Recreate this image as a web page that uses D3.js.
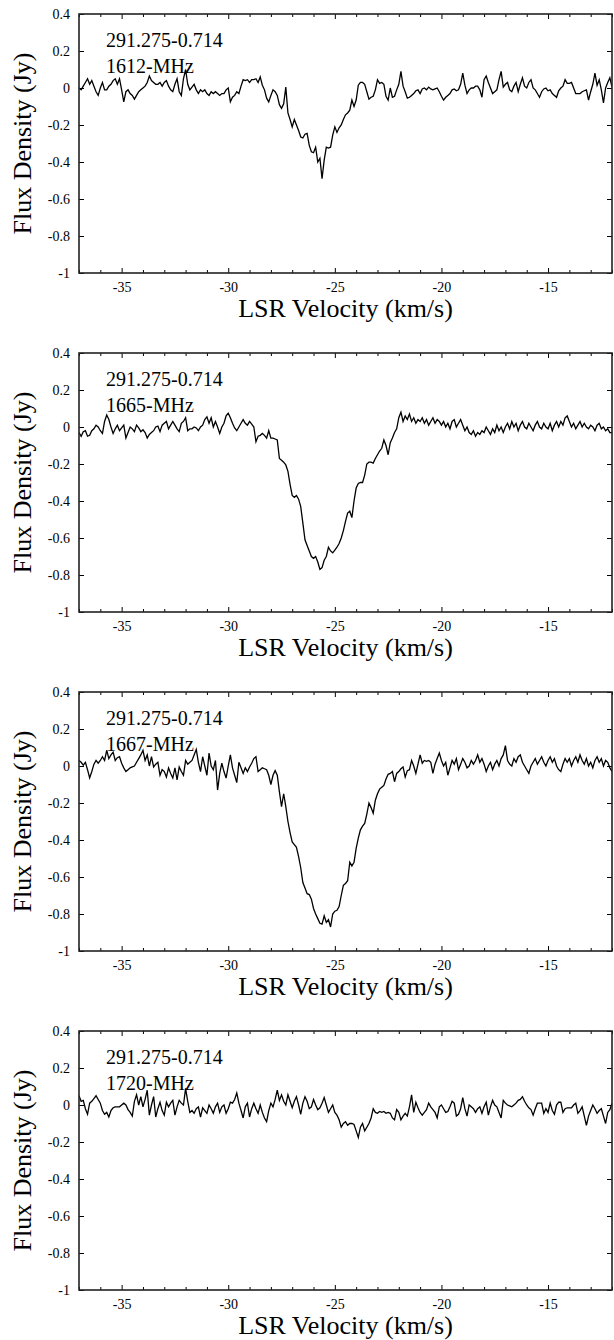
<!DOCTYPE html>
<html>
<head>
<meta charset="utf-8">
<script src="https://cdn.jsdelivr.net/npm/d3@7/dist/d3.min.js"></script>
<style>
  html, body { margin: 0; padding: 0; background: #fff; }
  svg { display: block; }
</style>
</head>
<body>
<svg id="chart" width="614" height="1340"></svg>
<script>
// ---- data ----
const sourceName = "291.275-0.714";
const lineNames = ["1612-MHz", "1665-MHz", "1667-MHz", "1720-MHz"];
const velStart = -37.0;      // km/s, first channel
const velStep = 0.1;         // km/s, channel width
const xDomain = [-37, -12];
const yDomain = [-1, 0.4];
const xMajorTicks = [-35, -30, -25, -20, -15];
const xMajorLabels = ["-35", "-30", "-25", "-20", "-15"];
const xMinorTicks = [-37,-36,-34,-33,-32,-31,-29,-28,-27,-26,-24,-23,-22,-21,-19,-18,-17,-16,-14,-13,-12];
const yTicks = [0.4, 0.2, 0, -0.2, -0.4, -0.6, -0.8, -1];
const yTickLabels = ["0.4", "0.2", "0", "-0.2", "-0.4", "-0.6", "-0.8", "-1"];
const xTitle = "LSR Velocity (km/s)";
const yTitle = "Flux Density (Jy)";

const flux1612 = [
0.00,-0.01,0.01,0.03,0.05,0.02,0.04,0.01,-0.02,-0.04,
0.00,0.03,-0.01,-0.01,0.01,0.02,0.04,0.05,0.02,0.05,
-0.01,-0.075,-0.02,-0.01,-0.03,-0.04,-0.06,-0.04,-0.02,-0.01,
0.00,0.01,0.03,0.065,0.04,0.03,0.02,0.02,0.03,0.01,
0.03,0.04,0.01,-0.01,-0.02,0.02,0.05,-0.02,-0.04,0.05,
0.10,0.02,-0.01,0.005,0.02,-0.01,-0.03,-0.01,-0.02,-0.01,
-0.03,-0.04,-0.02,-0.03,-0.02,-0.03,-0.04,-0.03,-0.03,-0.01,
0.00,-0.075,-0.05,-0.04,-0.02,-0.03,0.01,0.045,0.04,0.045,
0.03,0.045,0.045,0.05,0.03,0.06,0.015,-0.01,-0.055,-0.075,
-0.04,-0.01,-0.02,-0.04,-0.09,-0.11,-0.085,0.005,-0.135,-0.17,
-0.21,-0.17,-0.20,-0.23,-0.265,-0.27,-0.25,-0.245,-0.31,-0.345,
-0.35,-0.32,-0.40,-0.38,-0.49,-0.39,-0.32,-0.325,-0.32,-0.255,
-0.21,-0.24,-0.215,-0.20,-0.17,-0.145,-0.135,-0.12,-0.065,-0.10,
-0.065,0.015,0.03,0.03,0.02,-0.02,-0.06,-0.05,-0.045,-0.01,
0.045,0.025,0.03,0.02,-0.045,-0.065,0.00,-0.05,-0.045,-0.01,
0.02,0.09,0.01,-0.02,-0.055,-0.05,-0.04,-0.03,-0.015,-0.01,
-0.03,-0.005,0.00,-0.01,0.005,-0.005,-0.01,-0.005,0.00,-0.02,
-0.045,-0.065,-0.05,-0.04,-0.03,-0.01,-0.005,-0.015,-0.01,0.02,
0.08,0.015,-0.03,-0.01,0.00,0.00,0.01,0.01,-0.01,-0.05,
0.045,0.065,0.03,0.00,-0.03,-0.02,-0.01,0.045,0.09,0.005,
0.02,0.03,-0.01,-0.02,0.01,0.03,-0.02,0.02,0.055,0.01,
0.00,0.03,0.045,0.00,-0.01,-0.03,-0.05,-0.02,-0.005,0.00,
-0.015,-0.01,-0.03,-0.04,-0.05,-0.015,0.00,0.01,0.045,0.025,
0.025,0.03,0.00,-0.03,-0.03,-0.03,-0.02,-0.015,-0.01,-0.065,
-0.02,0.02,0.08,0.015,0.045,-0.01,-0.08,0.00,0.03,0.055,
0.005];

const flux1665 = [
-0.03,-0.05,-0.025,-0.02,-0.05,-0.045,-0.02,-0.01,0.01,0.00,
-0.02,-0.035,0.03,0.065,0.04,0.00,-0.035,-0.01,0.01,-0.02,
-0.005,0.01,-0.06,-0.03,0.00,-0.01,-0.025,0.01,-0.005,-0.025,
-0.015,-0.03,-0.06,-0.04,-0.03,-0.02,0.00,0.005,-0.025,0.01,
0.02,0.03,-0.01,0.01,0.03,0.01,-0.01,-0.025,0.02,0.03,
0.05,-0.02,-0.01,-0.01,0.00,-0.005,-0.02,0.00,0.01,0.04,
0.055,0.02,0.05,0.00,0.03,0.00,-0.035,0.00,0.02,0.06,
0.075,0.05,0.02,-0.005,-0.02,0.00,0.02,0.04,0.02,0.01,
0.03,0.015,0.00,-0.08,-0.05,-0.045,-0.035,-0.045,-0.06,-0.02,
-0.06,-0.06,-0.065,-0.07,-0.17,-0.18,-0.19,-0.205,-0.24,-0.31,
-0.37,-0.38,-0.37,-0.39,-0.43,-0.52,-0.61,-0.64,-0.67,-0.70,
-0.71,-0.70,-0.73,-0.77,-0.76,-0.72,-0.70,-0.65,-0.67,-0.68,
-0.665,-0.65,-0.63,-0.60,-0.56,-0.51,-0.465,-0.455,-0.49,-0.40,
-0.33,-0.305,-0.30,-0.30,-0.26,-0.20,-0.19,-0.19,-0.195,-0.17,
-0.15,-0.13,-0.115,-0.07,-0.10,-0.15,-0.085,-0.06,-0.03,-0.01,
0.05,0.08,0.03,0.06,0.04,0.07,0.03,0.05,0.02,0.04,
0.03,0.05,0.02,0.04,0.01,0.03,0.05,0.02,0.04,0.03,
0.01,0.03,0.00,0.02,-0.01,0.03,0.04,0.00,0.02,0.04,
0.01,-0.02,0.00,-0.03,-0.04,-0.02,-0.05,-0.03,-0.04,-0.02,
-0.03,0.00,-0.02,-0.04,-0.01,-0.03,0.01,-0.02,0.00,-0.03,
0.00,0.02,-0.01,0.03,0.00,0.02,-0.02,0.01,0.03,0.00,
-0.01,0.02,0.00,-0.02,0.01,0.03,0.00,-0.01,0.02,0.00,
-0.01,0.02,-0.02,0.01,0.03,0.00,0.03,0.01,0.05,0.06,
0.03,0.00,0.02,-0.01,0.01,0.03,0.00,0.02,0.00,-0.01,
0.01,0.00,-0.02,0.01,0.02,-0.01,0.00,-0.02,-0.01,-0.03,
-0.03];

const flux1667 = [
0.03,0.02,0.005,0.02,-0.02,-0.065,-0.03,0.01,0.03,0.015,
0.03,0.05,0.03,0.085,0.04,0.06,0.075,0.03,0.045,0.05,
0.015,-0.01,-0.03,-0.02,-0.01,-0.005,0.00,0.02,0.04,0.06,
0.085,0.03,0.06,0.00,0.05,-0.005,0.01,0.02,-0.05,-0.02,
-0.03,-0.06,-0.01,-0.04,-0.065,-0.01,-0.075,-0.005,-0.03,-0.05,
0.03,0.01,0.02,0.03,0.06,0.09,0.02,-0.03,0.05,0.00,
-0.05,0.07,0.00,-0.02,0.03,-0.13,-0.04,0.015,-0.03,-0.065,
0.00,0.06,-0.01,-0.05,-0.09,0.02,-0.01,-0.04,-0.01,-0.03,
-0.005,0.015,0.04,0.05,-0.03,-0.02,-0.01,-0.015,-0.02,-0.05,
-0.10,-0.05,-0.025,-0.05,-0.14,-0.22,-0.15,-0.22,-0.30,-0.36,
-0.41,-0.425,-0.44,-0.49,-0.55,-0.63,-0.66,-0.69,-0.695,-0.72,
-0.77,-0.80,-0.825,-0.85,-0.855,-0.81,-0.845,-0.83,-0.87,-0.80,
-0.785,-0.78,-0.76,-0.70,-0.645,-0.635,-0.62,-0.52,-0.54,-0.52,
-0.445,-0.39,-0.345,-0.325,-0.31,-0.26,-0.20,-0.225,-0.255,-0.185,
-0.15,-0.125,-0.115,-0.105,-0.07,-0.045,-0.04,-0.03,-0.085,-0.04,
-0.03,-0.015,-0.005,-0.06,-0.025,-0.02,0.03,0.00,-0.04,0.01,
0.06,0.015,0.03,0.025,0.03,0.02,-0.04,0.01,0.04,0.07,
0.03,0.00,0.02,-0.05,-0.01,0.03,0.01,0.04,-0.02,0.01,
0.04,0.02,-0.01,0.00,0.03,0.01,0.03,0.06,0.02,0.04,
0.01,-0.03,0.00,0.02,-0.02,0.01,0.03,0.00,0.04,0.06,
0.11,0.03,0.01,0.00,0.04,0.02,0.05,0.06,0.02,0.00,
-0.02,-0.04,0.00,0.02,0.04,0.01,0.03,0.05,0.02,0.00,
0.03,0.05,0.02,0.04,0.00,-0.02,-0.03,0.01,0.04,0.02,
0.04,0.00,0.03,0.05,0.02,0.06,0.03,0.01,0.04,0.00,
0.02,-0.01,0.03,0.05,0.02,0.04,0.00,0.03,0.02,-0.01,
-0.03];

const flux1720 = [
0.05,0.02,0.025,-0.02,-0.05,0.01,0.02,0.035,0.05,0.03,
0.01,-0.03,-0.05,-0.04,-0.065,-0.03,-0.015,-0.01,-0.01,-0.01,
0.00,0.01,0.00,-0.025,-0.04,-0.06,0.02,0.055,0.00,0.045,
-0.01,0.03,0.08,-0.055,0.00,0.045,-0.065,-0.02,0.015,-0.03,
-0.055,0.015,-0.01,0.01,0.025,-0.055,-0.01,0.025,0.01,0.00,
0.09,0.02,-0.04,-0.03,-0.045,-0.02,-0.01,-0.065,-0.015,-0.03,
-0.045,0.00,-0.02,-0.045,-0.01,0.01,-0.04,-0.01,0.00,-0.045,
-0.02,0.015,0.01,0.03,0.065,0.01,-0.03,-0.07,-0.01,0.01,
-0.065,-0.02,0.01,-0.02,-0.045,0.00,-0.04,-0.07,-0.09,-0.03,
0.01,-0.01,0.03,0.08,0.025,0.055,0.02,0.00,0.055,0.02,
-0.015,0.02,0.045,0.00,-0.05,0.01,0.045,0.02,-0.02,-0.01,
0.03,0.00,-0.025,-0.015,0.01,0.04,0.00,-0.04,-0.02,0.00,
-0.04,-0.055,-0.08,-0.12,-0.10,-0.09,-0.11,-0.10,-0.10,-0.105,
-0.14,-0.175,-0.12,-0.10,-0.14,-0.12,-0.10,-0.07,-0.02,-0.04,
-0.045,-0.035,-0.04,-0.035,-0.045,-0.04,-0.045,-0.07,-0.08,-0.025,
-0.04,-0.08,-0.06,-0.045,-0.06,-0.01,0.055,-0.04,0.015,-0.015,
-0.04,-0.055,-0.04,-0.025,0.01,-0.01,-0.025,-0.04,-0.07,-0.01,
0.00,-0.02,-0.04,-0.035,-0.01,0.02,0.01,-0.06,-0.05,-0.02,
0.04,-0.02,-0.06,0.00,-0.01,-0.02,-0.04,-0.02,-0.01,-0.045,
-0.01,0.015,-0.055,-0.01,0.025,0.00,-0.01,-0.04,-0.07,0.025,
0.01,0.00,-0.005,-0.01,0.00,0.01,0.025,0.03,0.045,0.02,
0.00,-0.015,-0.025,-0.055,-0.02,0.01,0.01,0.01,-0.045,-0.02,
-0.04,0.01,-0.03,-0.05,0.00,0.015,0.015,-0.04,-0.02,-0.015,
-0.015,-0.015,0.00,0.01,-0.045,-0.03,-0.01,-0.06,-0.11,-0.06,
-0.03,0.00,-0.02,-0.045,-0.03,-0.02,-0.06,-0.10,-0.04,-0.025,
0.01];

const spectra = [flux1612, flux1665, flux1667, flux1720];

// ---- layout ----
const FONT = "'Liberation Serif', 'Nimbus Roman', 'Times New Roman', Times, 'DejaVu Serif', serif";
const plotLeft = 79, plotRight = 612;
const panelTops = [14, 353, 692, 1031];
const plotH = 259;

const svg = d3.select("#chart").attr("font-family", FONT);
const x = d3.scaleLinear().domain(xDomain).range([plotLeft, plotRight]);

spectra.forEach((flux, k) => {
  const top = panelTops[k];
  const bottom = top + plotH;
  const y = d3.scaleLinear().domain(yDomain).range([bottom, top]);
  const g = svg.append("g");

  const clipId = "clip" + k;
  g.append("clipPath").attr("id", clipId)
    .append("rect").attr("x", plotLeft).attr("y", top)
    .attr("width", plotRight - plotLeft).attr("height", plotH);

  // spectrum
  const pts = flux.map((f, i) => [velStart + velStep * i, f]);
  const line = d3.line().x(d => x(d[0])).y(d => y(d[1]));
  g.append("path")
    .attr("d", line(pts))
    .attr("fill", "none")
    .attr("stroke", "#000")
    .attr("stroke-width", 1.3)
    .attr("clip-path", `url(#${clipId})`);

  // axes (ticks inward)
  const xb = d3.axisBottom(x).tickValues(xMajorTicks)
    .tickFormat((d, i) => xMajorLabels[i]).tickSize(-5).tickPadding(9);
  const xbm = d3.axisBottom(x).tickValues(xMinorTicks).tickFormat("").tickSize(-3);
  const xt = d3.axisTop(x).tickValues(xMajorTicks).tickFormat("").tickSize(-5);
  const xtm = d3.axisTop(x).tickValues(xMinorTicks).tickFormat("").tickSize(-3);
  const yl = d3.axisLeft(y).tickValues(yTicks)
    .tickFormat((d, i) => yTickLabels[i]).tickSize(-5).tickPadding(9);
  const yr = d3.axisRight(y).tickValues(yTicks).tickFormat("").tickSize(-5);

  const axes = [
    [xb, `translate(0,${bottom})`],
    [xbm, `translate(0,${bottom})`],
    [xt, `translate(0,${top})`],
    [xtm, `translate(0,${top})`],
    [yl, `translate(${plotLeft},0)`],
    [yr, `translate(${plotRight},0)`]
  ];
  axes.forEach(([ax, tr]) => {
    const a = g.append("g").attr("transform", tr).call(ax)
      .attr("font-family", FONT).attr("font-size", 14);
    a.select(".domain").remove();
    a.selectAll(".tick line").attr("stroke", "#000").attr("stroke-width", 1);
    a.selectAll(".tick text").attr("font-family", FONT)
      .attr("font-size", 14).attr("fill", "#000");
  });

  // frame
  g.append("rect")
    .attr("x", plotLeft).attr("y", top)
    .attr("width", plotRight - plotLeft).attr("height", plotH)
    .attr("fill", "none").attr("stroke", "#222").attr("stroke-width", 1.6);

  // labels inside the panel
  g.append("text").attr("x", 106).attr("y", top + 33)
    .attr("font-family", FONT).attr("font-size", 20).attr("fill", "#000")
    .text(sourceName);
  g.append("text").attr("x", 106).attr("y", top + 59)
    .attr("font-family", FONT).attr("font-size", 20).attr("fill", "#000")
    .text(lineNames[k]);

  // axis titles
  g.append("text")
    .attr("x", (plotLeft + plotRight) / 2).attr("y", bottom + 44)
    .attr("text-anchor", "middle")
    .attr("font-family", FONT).attr("font-size", 26).attr("fill", "#000")
    .text(xTitle);
  g.append("text")
    .attr("transform", `translate(31,${top + plotH / 2}) rotate(-90)`)
    .attr("text-anchor", "middle")
    .attr("font-family", FONT).attr("font-size", 26).attr("fill", "#000")
    .text(yTitle);
});
</script>
</body>
</html>
